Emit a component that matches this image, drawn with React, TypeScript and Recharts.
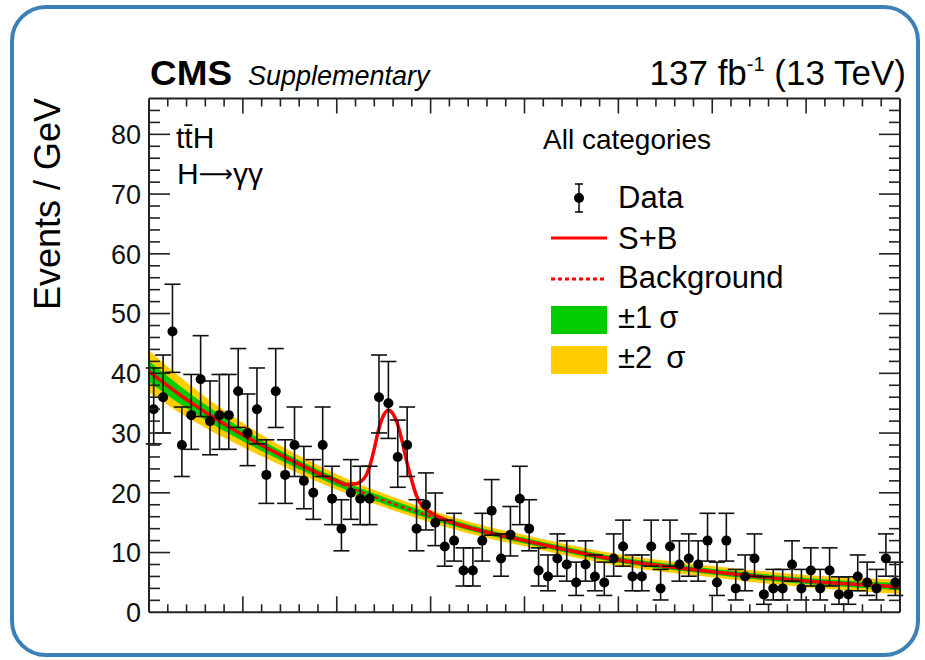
import React from 'react';
import { ComposedChart, XAxis, YAxis, Area, Line, Scatter, ErrorBar } from 'recharts';

const FONT = '"Liberation Sans", Arial, Helvetica, sans-serif';

// Diphoton invariant mass binning (GeV)
const massLow = 100;
const massHigh = 180;
const binWidth = 1;

// Observed events in each 1 GeV bin, 100-180 GeV
const dataCounts = [
  34, 36, 47, 28, 33, 39, 32, 33, 33, 37,
  30, 34, 23, 37, 23, 28, 22, 20, 28, 19,
  14, 20, 19, 19, 36, 35, 26, 28, 14, 18,
  15, 11, 12, 7, 7, 12, 17, 9, 13, 19,
  14, 7, 6, 9, 8, 5, 8, 6, 5, 9,
  11, 6, 6, 11, 4, 11, 8, 9, 8, 12,
  5, 12, 4, 6, 9, 3, 4, 4, 8, 4,
  7, 4, 7, 3, 3, 6, 5, 4, 9, 5,
];

// Background-only fit and its uncertainty bands
const curveMass = [100, 104, 108, 112, 116, 120, 124, 128, 132, 136, 140, 144, 148, 152, 156, 160, 164, 168, 172, 176, 180];
const bkgFit = [40.3, 35.6, 31.5, 27.9, 24.7, 21.8, 19.3, 17.1, 15.1, 13.4, 12.0, 10.6, 9.3, 8.3, 7.5, 6.8, 6.1, 5.5, 5.0, 4.6, 4.3];
const oneSigma = [1.75, 1.45, 1.15, 0.9, 0.75, 0.65, 0.58, 0.53, 0.5, 0.48, 0.48, 0.48, 0.48, 0.48, 0.48, 0.48, 0.5, 0.5, 0.52, 0.55, 0.6];
const twoSigma = [3.5, 2.9, 2.3, 1.8, 1.5, 1.3, 1.15, 1.05, 1.0, 0.95, 0.95, 0.95, 0.95, 0.95, 0.95, 0.95, 1.0, 1.0, 1.05, 1.1, 1.2];

// Signal + background fit
const sbMass = [100, 104, 108, 112, 116, 119, 120, 121, 122, 123, 123.5, 124, 124.5, 125, 125.5, 126, 126.5, 127, 127.5, 128, 128.5, 129, 130, 132, 136, 140, 144, 148, 152, 156, 160, 164, 168, 172, 176, 180];
const sbFit = [40.3, 35.6, 31.5, 27.95, 24.8, 22.6, 22.0, 21.4, 21.5, 22.6, 24.4, 27.4, 30.8, 33.0, 33.8, 33.2, 31.4, 28.4, 24.9, 22.0, 19.5, 18.0, 16.7, 15.2, 13.4, 12.0, 10.6, 9.3, 8.3, 7.5, 6.8, 6.1, 5.5, 5.0, 4.6, 4.3];

// Axis ticks
const xMajorTicks = [100, 110, 120, 130, 140, 150, 160, 170, 180];
const xMinorStep = 2;
const yMajorTicks = [0, 10, 20, 30, 40, 50, 60, 70, 80];
const yMinorStep = 2;
const yMax = 86;

// Legend entries
const legendTitle = 'All categories';
const legendLabels = ['Data', 'S+B', 'Background', '\u00b11', '\u00b12'];
const sigmaSymbol = '\u03c3';

const RED = '#ff0000';
const GREEN = '#00cc00';
const YELLOW = '#ffcc00';
const AXIS = '#222';

// Garwood-style asymmetric Poisson interval (approximation)
const poissonErr = (n: number): [number, number] => [
  n > 0 ? Math.sqrt(n - 0.25) : 0,
  Math.sqrt(n + 0.75) + 1,
];

const dataRows = dataCounts.map((n, i) => ({
  m: massLow + (i + 0.5) * binWidth,
  events: n,
  err: poissonErr(n),
}));

const bandRows = curveMass.map((m, i) => ({
  m,
  bkg: bkgFit[i],
  one: [bkgFit[i] - oneSigma[i], bkgFit[i] + oneSigma[i]],
  two: [bkgFit[i] - twoSigma[i], bkgFit[i] + twoSigma[i]],
}));

const sbRows = sbMass.map((m, i) => ({ m, sb: sbFit[i] }));

const xTicks: number[] = [];
for (let v = massLow + xMinorStep; v < massHigh; v += xMinorStep) xTicks.push(v);
const yTicks: number[] = [];
for (let v = 0; v < yMax - 1; v += yMinorStep) yTicks.push(v);

const isXMajor = (v: number) => xMajorTicks.includes(v);
const isYMajor = (v: number) => yMajorTicks.includes(v);

const BottomTick = (p: any) => {
  const len = isXMajor(p.payload.value) ? 16 : 8;
  return <line x1={p.x} x2={p.x} y1={p.y} y2={p.y - len} stroke={AXIS} strokeWidth={1.6} />;
};
const TopTick = (p: any) => {
  const len = isXMajor(p.payload.value) ? 15 : 8;
  return <line x1={p.x} x2={p.x} y1={p.y} y2={p.y + len} stroke={AXIS} strokeWidth={1.6} />;
};
const LeftTick = (p: any) => {
  const v = p.payload.value;
  const major = isYMajor(v);
  return (
    <g>
      {v > 0 && <line x1={p.x} x2={p.x + (major ? 21 : 11)} y1={p.y} y2={p.y} stroke={AXIS} strokeWidth={1.6} />}
      {major && (
        <text x={p.x - 8} y={p.y} dy="0.36em" textAnchor="end" fontSize={27} fontFamily={FONT} fill="#111">
          {v}
        </text>
      )}
    </g>
  );
};
const RightTick = (p: any) => {
  const v = p.payload.value;
  if (v <= 0) return <g />;
  const len = isYMajor(v) ? 21 : 11;
  return <line x1={p.x} x2={p.x - len} y1={p.y} y2={p.y} stroke={AXIS} strokeWidth={1.6} />;
};

const axisLine = { stroke: AXIS, strokeWidth: 2 };

const Dot = (p: any) => <circle cx={p.cx} cy={p.cy} r={5} fill="#000" />;

export default function App() {
  return (
    <div style={{ position: 'absolute', left: 0, top: 0, width: 925, height: 660, background: '#fff' }}>
      <ComposedChart width={925} height={660} margin={{ top: 97.5, right: 0, bottom: 46.7, left: 0 }}>
        <XAxis
          xAxisId="bottom"
          dataKey="m"
          type="number"
          orientation="bottom"
          domain={[massLow, massHigh]}
          ticks={xTicks}
          interval={0}
          height={1}
          tickSize={0}
          tickMargin={0}
          tickLine={false}
          axisLine={axisLine}
          tick={(p: any) => <BottomTick {...p} />}
          allowDataOverflow
        />
        <XAxis
          xAxisId="top"
          dataKey="m"
          type="number"
          orientation="top"
          domain={[massLow, massHigh]}
          ticks={xTicks}
          interval={0}
          height={1}
          tickSize={0}
          tickMargin={0}
          tickLine={false}
          axisLine={axisLine}
          tick={(p: any) => <TopTick {...p} />}
          allowDataOverflow
        />
        <YAxis
          yAxisId="left"
          type="number"
          orientation="left"
          domain={[0, yMax]}
          ticks={yTicks}
          interval={0}
          width={149}
          tickSize={0}
          tickMargin={0}
          tickLine={false}
          axisLine={axisLine}
          tick={(p: any) => <LeftTick {...p} />}
          allowDataOverflow
        />
        <YAxis
          yAxisId="right"
          type="number"
          orientation="right"
          domain={[0, yMax]}
          ticks={yTicks}
          interval={0}
          width={25}
          tickSize={0}
          tickMargin={0}
          tickLine={false}
          axisLine={axisLine}
          tick={(p: any) => <RightTick {...p} />}
          allowDataOverflow
        />
        <Area
          xAxisId="bottom"
          yAxisId="left"
          data={bandRows}
          dataKey="two"
          type="monotone"
          fill={YELLOW}
          fillOpacity={1}
          stroke="none"
          isAnimationActive={false}
          activeDot={false}
        />
        <Area
          xAxisId="bottom"
          yAxisId="left"
          data={bandRows}
          dataKey="one"
          type="monotone"
          fill={GREEN}
          fillOpacity={1}
          stroke="none"
          isAnimationActive={false}
          activeDot={false}
        />
        <Line
          xAxisId="bottom"
          yAxisId="left"
          data={bandRows}
          dataKey="bkg"
          type="monotone"
          stroke={RED}
          strokeWidth={2.2}
          strokeDasharray="4 3"
          dot={false}
          activeDot={false}
          isAnimationActive={false}
        />
        <Line
          xAxisId="bottom"
          yAxisId="left"
          data={sbRows}
          dataKey="sb"
          type="monotone"
          stroke={RED}
          strokeWidth={3.5}
          dot={false}
          activeDot={false}
          isAnimationActive={false}
        />
        <Scatter
          xAxisId="bottom"
          yAxisId="left"
          data={dataRows}
          dataKey="events"
          shape={(p: any) => <Dot {...p} />}
          isAnimationActive={false}
        >
          <ErrorBar dataKey="err" direction="y" width={8} stroke="#111" strokeWidth={1.6} />
        </Scatter>
      </ComposedChart>

      <svg
        width={925}
        height={660}
        style={{ position: 'absolute', left: 0, top: 0, pointerEvents: 'none' }}
        fontFamily={FONT}
      >
        <rect x={12} y={7} width={906} height={648} rx={34} ry={34} fill="none" stroke="#3d80b5" strokeWidth={4} />

        <text x={150} y={85} fontSize={35} fontWeight="bold" fill="#000" textLength={82} lengthAdjust="spacingAndGlyphs">CMS</text>
        <text x={248} y={85} fontSize={27} fontStyle="italic" fill="#000">Supplementary</text>
        <text x={906} y={85} fontSize={35} textAnchor="end" fill="#000">
          137 fb<tspan dy={-14} fontSize={20}>-1</tspan>
          <tspan dy={14}> (13 TeV)</tspan>
        </text>

        <text transform="translate(60,98) rotate(-90)" textAnchor="end" fontSize={36} fill="#000">
          Events / GeV
        </text>

        <text x={176} y={148} fontSize={30} fill="#000">t{'t\u0304'}H</text>
        <text x={177} y={184} fontSize={30} fill="#000">
          H<tspan fontFamily='"DejaVu Sans", sans-serif' fontSize={24} dy={-2}>{'\u27f6'}</tspan>
          <tspan dy={2}>{'\u03b3\u03b3'}</tspan>
        </text>

        <text x={543} y={149} fontSize={28} fill="#000">{legendTitle}</text>

        <line x1={579} x2={579} y1={184} y2={212} stroke="#111" strokeWidth={1.6} />
        <line x1={575} x2={583} y1={184} y2={184} stroke="#111" strokeWidth={1.6} />
        <line x1={575} x2={583} y1={212} y2={212} stroke="#111" strokeWidth={1.6} />
        <circle cx={579} cy={198} r={5} fill="#000" />
        <text x={618} y={208} fontSize={31} fill="#000">{legendLabels[0]}</text>

        <line x1={551} x2={607} y1={238} y2={238} stroke={RED} strokeWidth={3} />
        <text x={618} y={249} fontSize={31} fill="#000">{legendLabels[1]}</text>

        <line x1={551} x2={607} y1={279} y2={279} stroke={RED} strokeWidth={3} strokeDasharray="4 3" />
        <text x={618} y={288} fontSize={31} fill="#000">{legendLabels[2]}</text>

        <rect x={551} y={306} width={56} height={28} fill={GREEN} />
        <text x={618} y={328} fontSize={31} fill="#000">
          {legendLabels[3]}
          <tspan dx={7}>{sigmaSymbol}</tspan>
        </text>

        <rect x={551} y={346} width={56} height={28} fill={YELLOW} />
        <text x={618} y={368} fontSize={31} fill="#000">
          {legendLabels[4]}
          <tspan dx={14}>{sigmaSymbol}</tspan>
        </text>
      </svg>
    </div>
  );
}
